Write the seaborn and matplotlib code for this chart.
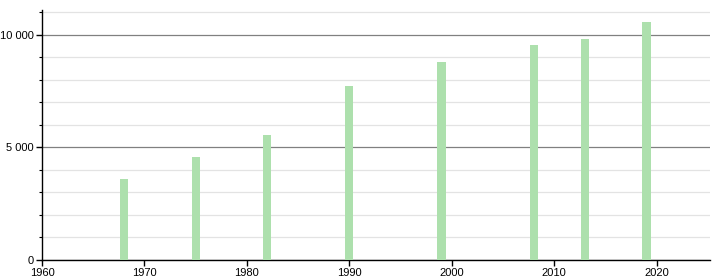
import matplotlib
matplotlib.use("Agg")
import matplotlib.pyplot as plt
import matplotlib.ticker as mticker
import seaborn as sns
import pandas as pd

years = [1968, 1975, 1982, 1990, 1999, 2008, 2013, 2019]
population = [3600, 4570, 5550, 7730, 8810, 9555, 9820, 10580]
x_ticks = [1960, 1970, 1980, 1990, 2000, 2010, 2020]
y_major = [0, 5000, 10000]

sns.set_style("white")
plt.rcParams['font.family'] = ['Liberation Sans', 'DejaVu Sans']

df = pd.DataFrame({"year": years, "pop": population})

fig = plt.figure(figsize=(7.2, 2.8), dpi=100)
ax = fig.add_axes([42/720, 20/280, 668/720, 250/280])

sns.barplot(data=df, x="year", y="pop", native_scale=True, width=0.16,
            color="#ade0ad", saturation=1, linewidth=0, edgecolor="none",
            ax=ax, zorder=3)

ax.set_xlim(1960, 2025.2)
ax.set_ylim(0, 11100)
ax.set_xticks(x_ticks)
ax.set_yticks(y_major)
ax.yaxis.set_minor_locator(mticker.MultipleLocator(1000))
ax.yaxis.set_major_formatter(mticker.FuncFormatter(lambda v, p: f"{int(v):,}".replace(",", " ")))

ax.grid(which="major", axis="y", color="#808080", linewidth=0.9, zorder=1)
ax.grid(which="minor", axis="y", color="#e3e3e3", linewidth=0.9, zorder=1)
ax.set_axisbelow(True)

for s in ["top", "right"]:
    ax.spines[s].set_visible(False)
for s in ["left", "bottom"]:
    ax.spines[s].set_color("black")
    ax.spines[s].set_linewidth(1)

ax.tick_params(axis="both", which="major", length=4, width=1, color="black",
               labelcolor="black", labelsize=8, direction="out",
               left=True, bottom=True, pad=2)
ax.tick_params(axis="y", which="minor", length=2, width=0.8, color="black", left=True)
ax.set_xlabel("")
ax.set_ylabel("")

fig.savefig("out.png", dpi=100)
